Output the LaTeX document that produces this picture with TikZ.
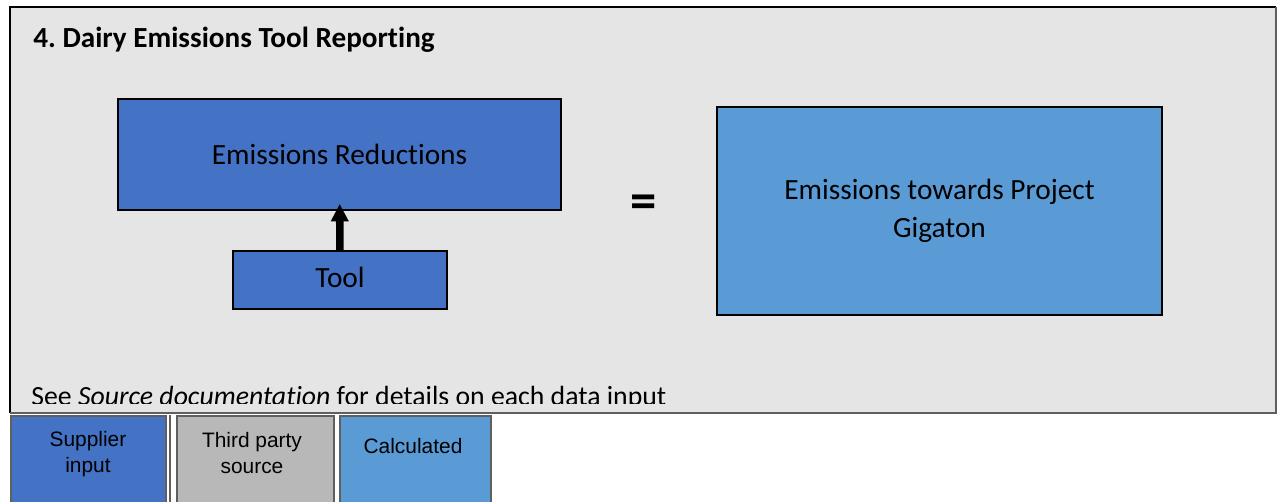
\documentclass[tikz,border=0pt]{standalone}
\usepackage{fontspec}
\setmainfont{Carlito}[Ligatures=NoCommon]
\newfontfamily\legendfont{Liberation Sans}
\usetikzlibrary{arrows.meta}
\definecolor{panelgrey}{HTML}{E5E5E5}
\definecolor{supplierblue}{HTML}{4472C4}
\definecolor{calcblue}{HTML}{5B9BD5}
\definecolor{thirdgrey}{HTML}{B8B8B8}
\definecolor{edgegrey}{HTML}{5F5F5F}
\tikzset{
  stepbox/.style={draw=black, line width=1pt, inner sep=0pt, align=center,
    font=\fontsize{16.7}{22}\selectfont},
  legendbox/.style={draw=edgegrey, line width=1pt, anchor=north west, inner sep=0pt},
  legendtext/.style={align=center, font=\legendfont\fontsize{11.9}{14.5}\selectfont}
}
\frenchspacing
\begin{document}
\begin{tikzpicture}[x=0.02cm,y=-0.02cm]
\useasboundingbox (0,0) rectangle (1277,501);
% panel
\fill[panelgrey] (10,7) rectangle (1276,413);
\node[anchor=base west, inner sep=0pt, font=\fontsize{16.6}{20}\bfseries\selectfont] (title) at (33,47) {4. Dairy Emissions Tool Reporting};
\begin{scope}
\clip (10,7) rectangle (1276,403);
\node[anchor=base west, inner sep=0pt, font=\fontsize{15.8}{19}\selectfont] (note) at (31,405) {See \textit{Source documentation} for details on each data input};
\end{scope}
\draw[black, line width=1.4pt] (10,413) -- (10,7) -- (1276,7);
\draw[edgegrey, line width=1pt] (1276,7) -- (1276,413) -- (10,413);
% boxes
\node[stepbox, fill=supplierblue, minimum width=8.86cm, minimum height=2.22cm] (reduct) at (339.5,154.5) {Emissions Reductions};
\node[stepbox, fill=supplierblue, minimum width=4.28cm, minimum height=1.16cm] (tool) at (340,280) {\raisebox{3pt}{Tool}};
\node[stepbox, fill=calcblue, minimum width=8.9cm, minimum height=4.16cm] (gigaton) at (939.5,211) {Emissions towards Project\\Gigaton};
\node[font=\fontsize{30}{34}\bfseries\selectfont] (equals) at (644,206.5) {=};
\draw[line width=4.3pt, shorten >=-0.14cm, -{Triangle[width=9.6pt,length=10pt]}] (tool) -- (reduct);
% legend
\node[legendbox, fill=supplierblue, minimum width=3.1cm, minimum height=1.9cm] (supplier) at (10,415) {};
\node[legendbox, fill=thirdgrey, minimum width=3.14cm, minimum height=1.9cm] (third) at (176,415) {};
\node[legendbox, fill=calcblue, minimum width=3.02cm, minimum height=1.9cm] (calc) at (339,415) {};
\draw[edgegrey, line width=1pt] (170,415) -- (170,510);
\draw[edgegrey, line width=1pt] (334,415) -- (334,510);
\node[legendtext] (supplierlbl) at (88,454) {Supplier\\input};
\node[legendtext] (thirdlbl) at (252,453) {Third party\\source};
\node[legendtext] (calclbl) at (413,446) {Calculated};
\end{tikzpicture}
\end{document}
